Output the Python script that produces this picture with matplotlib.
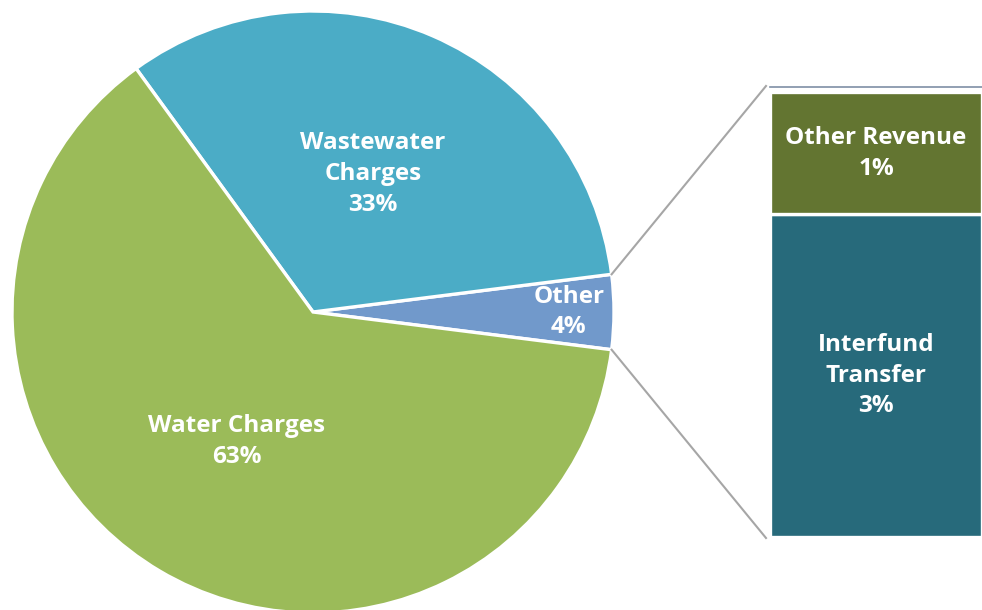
import matplotlib
matplotlib.use("Agg")
import matplotlib.pyplot as plt
import numpy as np

# pie data
pie_labels = ["Other", "Wastewater\nCharges", "Water Charges"]
pie_values = [4, 33, 63]
pie_colors = ["#7199CB", "#4BACC6", "#9BBB59"]

# breakdown of "Other"
bar_labels = ["Interfund\nTransfer", "Other Revenue"]
bar_values = [2.9, 1.1]
bar_pct = ["3%", "1%"]
bar_colors = ["#276A7B", "#637531"]

plt.rcParams["font.family"] = ["Open Sans", "DejaVu Sans"]

W, H = 982, 610
fig = plt.figure(figsize=(W / 100, H / 100), dpi=100)
ax = fig.add_axes([0, 0, 1, 1])

# layout
cx, cy, R = 313, 298, 301
bar_x, bar_w = 770, 212
bar_bottom, bar_h = 73, 445
scale = bar_h / sum(bar_values)
fs = 17.5

wedges, _ = ax.pie(pie_values, colors=pie_colors, startangle=-360 * pie_values[0] / 200,
                   counterclock=True, center=(cx, cy), radius=R, frame=True,
                   wedgeprops=dict(edgecolor="white", linewidth=2.4))
ax.set_xlim(0, W)
ax.set_ylim(0, H)
ax.set_aspect("equal")
ax.axis("off")

label_dist = [0.85, 0.5, 0.5]
for w, lab, v, d in zip(wedges, pie_labels, pie_values, label_dist):
    ang = np.deg2rad((w.theta1 + w.theta2) / 2)
    ax.text(cx + d * R * np.cos(ang), cy + d * R * np.sin(ang), f"{lab}\n{v}%",
            ha="center", va="center", color="white", fontsize=fs,
            fontweight="bold", linespacing=1.37)

# stacked bar for the breakdown
bottom = bar_bottom
for lab, v, p, c in zip(bar_labels, bar_values, bar_pct, bar_colors):
    h = v * scale
    bars = ax.bar(bar_x, h, width=bar_w, bottom=bottom, align="edge", color=c,
                  edgecolor="white", linewidth=2.4)
    ax.bar_label(bars, labels=[f"{lab}\n{p}"], label_type="center", color="white",
                 fontsize=fs, fontweight="bold", linespacing=1.37)
    bottom += h

# thin line above bar
top = bar_bottom + bar_h
ax.plot([bar_x, W], [top + 5, top + 5], color="#7F8FA6", lw=1.2)

# connector lines
w0 = wedges[0]
for th, yend in [(w0.theta2, top + 6), (w0.theta1, bar_bottom - 1)]:
    a = np.deg2rad(th)
    ax.plot([cx + R * np.cos(a), bar_x - 4], [cy + R * np.sin(a), yend],
            color="#A6A6A6", lw=1.5)

fig.savefig("out.png", dpi=100)
